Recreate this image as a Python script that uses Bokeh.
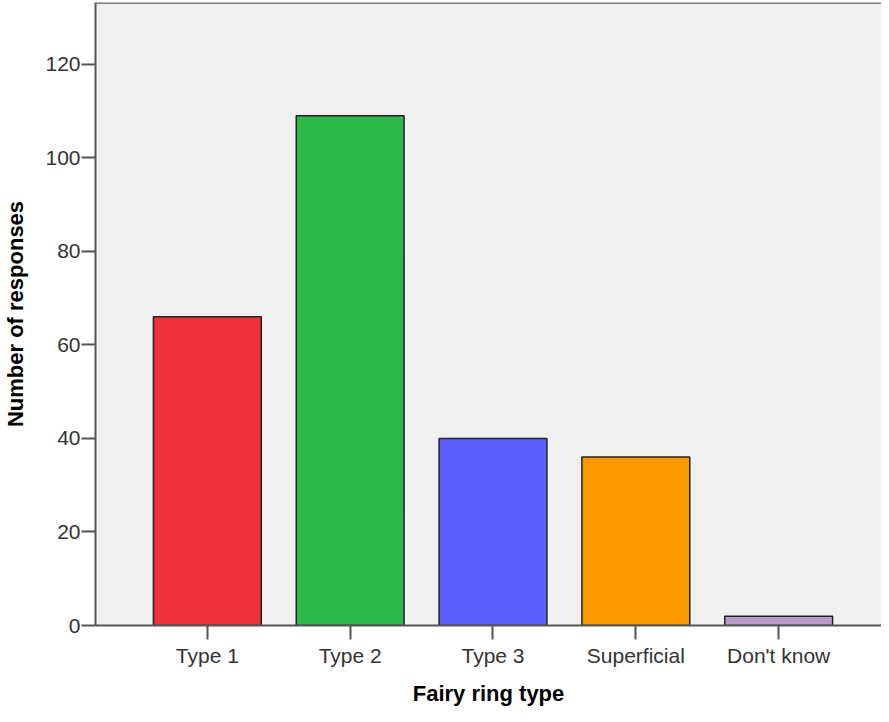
from bokeh.plotting import figure
from bokeh.models import Range1d, FixedTicker, Span
from bokeh.embed import file_html
from bokeh.resources import INLINE

categories = ["Type 1", "Type 2", "Type 3", "Superficial", "Don't know"]
responses = [66, 109, 40, 36, 2]
colors = ["#f0323a", "#2db84a", "#5b5ffe", "#fb9900", "#b99bcb"]
y_ticks = [0, 20, 40, 60, 80, 100, 120]

xs = list(range(1, len(categories) + 1))

p = figure(width=881, height=714, output_backend="svg", toolbar_location=None,
           x_range=Range1d(0.217, 5.72), y_range=Range1d(0, 133.2),
           min_border_left=95, min_border_right=0, min_border_top=2, min_border_bottom=89)
p.background_fill_color = "#f0f0f0"
p.border_fill_color = "white"
p.outline_line_color = None
p.grid.visible = False

p.vbar(x=xs, top=responses, bottom=0, width=0.755, fill_color=colors,
       line_color="#222222", line_width=1.5)

p.add_layout(Span(location=133.2, dimension="width", line_color="#7f7f7f", line_width=3))

p.xaxis.ticker = FixedTicker(ticks=xs)
p.xaxis.major_label_overrides = {i: c for i, c in zip(xs, categories)}
p.yaxis.ticker = FixedTicker(ticks=y_ticks)

for ax in (p.xaxis, p.yaxis):
    ax.axis_line_color = "#555555"
    ax.axis_line_width = 2
    ax.major_tick_line_color = "#555555"
    ax.major_tick_line_width = 2
    ax.major_tick_out = 14
    ax.major_tick_in = 0
    ax.minor_tick_line_color = None
    ax.major_label_text_font = "Liberation Sans"
    ax.major_label_text_font_size = "21px"
    ax.major_label_text_color = "#333333"
    ax.axis_label_text_font = "Liberation Sans"
    ax.axis_label_text_font_style = "bold"
    ax.axis_label_text_font_size = "22px"
    ax.axis_label_text_color = "#000000"

p.xaxis.axis_label = "Fairy ring type"
p.yaxis.axis_label = "Number of responses"
p.xaxis.major_label_standoff = 4
p.yaxis.major_label_standoff = 1
p.xaxis.axis_label_standoff = 11
p.yaxis.axis_label_standoff = 14

open("out.html", "w").write(file_html(p, INLINE))
